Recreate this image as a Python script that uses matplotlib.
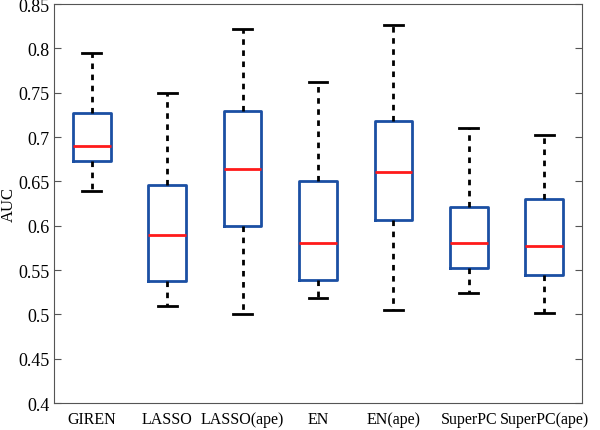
import matplotlib
matplotlib.use("Agg")
import matplotlib.pyplot as plt
import numpy as np

plt.rcParams["font.family"] = ["Liberation Serif", "DejaVu Serif"]

methods = ["GIREN", "LASSO", "LASSO(ape)", "EN", "EN(ape)", "SuperPC", "SuperPC(ape)"]
whisker_low = [0.639, 0.509, 0.500, 0.519, 0.505, 0.524, 0.502]
q1 = [0.673, 0.538, 0.600, 0.539, 0.606, 0.552, 0.544]
median = [0.690, 0.590, 0.664, 0.581, 0.661, 0.580, 0.577]
q3 = [0.727, 0.646, 0.729, 0.650, 0.718, 0.621, 0.630]
whisker_high = [0.795, 0.750, 0.822, 0.762, 0.827, 0.710, 0.702]

stats = []
for name, lo, a, m, b, hi in zip(methods, whisker_low, q1, median, q3, whisker_high):
    stats.append({"label": name, "whislo": lo, "q1": a, "med": m, "q3": b,
                  "whishi": hi, "fliers": []})

fig = plt.figure(figsize=(6.0, 4.31), dpi=100)
ax = fig.add_axes([0.09, 0.0626, 0.88, 0.9254])

blue = "#1b4fa3"
ax.bxp(stats, positions=np.arange(1, len(methods) + 1), widths=0.5,
       showfliers=False,
       boxprops=dict(color=blue, linewidth=2),
       medianprops=dict(color="#ff1a1a", linewidth=2),
       whiskerprops=dict(color="black", linewidth=2, linestyle=(0, (2, 2))),
       capprops=dict(color="black", linewidth=2),
       capwidths=0.25)

ax.set_xlim(0.5, len(methods) + 0.5)
ax.set_ylim(0.4, 0.85)
ax.set_yticks(np.arange(0.4, 0.851, 0.05))
ax.set_yticklabels(["0.4", "0.45", "0.5", "0.55", "0.6", "0.65", "0.7", "0.75", "0.8", "0.85"])
ax.tick_params(axis="y", direction="in", right=True, length=5, labelsize=13, pad=3,
               color="#555555")
ax.tick_params(axis="x", length=0, labelsize=11.5, pad=6)
for s in ax.spines.values():
    s.set_color("#555555")
    s.set_linewidth(0.8)
ax.set_ylabel("AUC", fontsize=12, labelpad=1)

fig.savefig("out.png", dpi=100)
